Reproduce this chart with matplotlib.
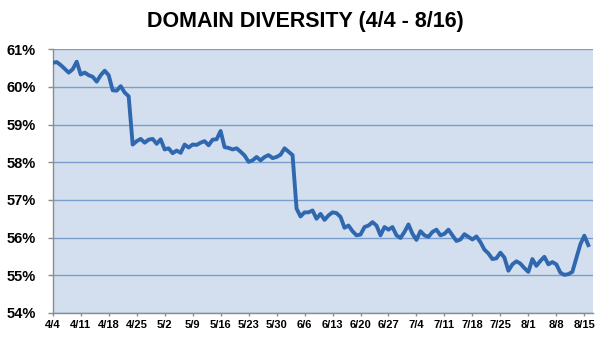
import matplotlib
matplotlib.use('Agg')
import matplotlib.pyplot as plt
from matplotlib.ticker import FuncFormatter

# Daily share (%) from 4/4 to 8/16
diversity = [
    60.64, 60.66, 60.58, 60.48, 60.38, 60.47, 60.67, 60.33, 60.38, 60.31,
    60.27, 60.14, 60.31, 60.43, 60.31, 59.91, 59.90, 60.02, 59.85, 59.75,
    58.47, 58.56, 58.62, 58.52, 58.60, 58.62, 58.49, 58.61, 58.34, 58.37,
    58.24, 58.31, 58.25, 58.47, 58.39, 58.47, 58.46, 58.52, 58.56, 58.45,
    58.60, 58.61, 58.83, 58.40, 58.38, 58.34, 58.37, 58.28, 58.18, 58.01,
    58.05, 58.14, 58.05, 58.14, 58.19, 58.11, 58.14, 58.20, 58.37, 58.28,
    58.19, 56.77, 56.56, 56.67, 56.67, 56.72, 56.50, 56.63, 56.47, 56.59,
    56.67, 56.65, 56.55, 56.26, 56.32, 56.17, 56.06, 56.08, 56.28, 56.32,
    56.41, 56.32, 56.06, 56.28, 56.21, 56.28, 56.06, 55.99, 56.15, 56.35,
    56.10, 55.94, 56.17, 56.06, 56.02, 56.15, 56.21, 56.06, 56.10, 56.21,
    56.06, 55.91, 55.95, 56.09, 56.02, 55.95, 56.03, 55.88, 55.68, 55.58,
    55.43, 55.45, 55.60, 55.47, 55.12, 55.29, 55.37, 55.31, 55.19, 55.09,
    55.43, 55.25, 55.38, 55.49, 55.29, 55.35, 55.29, 55.07, 55.01, 55.03,
    55.09, 55.45, 55.82, 56.05, 55.80,
]
week_labels = ['4/4', '4/11', '4/18', '4/25', '5/2', '5/9', '5/16', '5/23',
               '5/30', '6/6', '6/13', '6/20', '6/27', '7/4', '7/11', '7/18',
               '7/25', '8/1', '8/8', '8/15']
y_ticks = [54, 55, 56, 57, 58, 59, 60, 61]

font = 'Liberation Sans'
days = list(range(len(diversity)))

fig = plt.figure(figsize=(6.04, 3.42), dpi=100)
ax = fig.add_axes([0.0873, 0.085, 0.8947, 0.771])
ax.set_facecolor('#D3DFEE')

ax.plot(days, diversity, color='#3068B0', linewidth=2.8,
        solid_joinstyle='round', zorder=3)

ax.set_xlim(0, 135.2)
ax.set_ylim(54, 61)
ax.set_yticks(y_ticks)
ax.yaxis.set_major_formatter(FuncFormatter(lambda v, p: '{:.0f}%'.format(v)))
ax.set_xticks(range(0, len(diversity), 7), labels=week_labels)

ax.grid(axis='y', color='#7B9FCD', linewidth=1.0, zorder=1)
ax.set_axisbelow(True)

for s in ['top', 'right']:
    ax.spines[s].set_visible(False)
for s in ['left', 'bottom']:
    ax.spines[s].set_color('#8C8C8C')
    ax.spines[s].set_linewidth(1.0)

ax.tick_params(axis='y', length=3.5, width=1, color='#8C8C8C', pad=8.5)
ax.tick_params(axis='x', length=2.5, width=1, color='#8C8C8C', pad=2.5)
for lbl in ax.get_yticklabels():
    lbl.set_family(font)
    lbl.set_fontsize(10.5)
    lbl.set_fontweight('bold')
for lbl in ax.get_xticklabels():
    lbl.set_family(font)
    lbl.set_fontsize(8)
    lbl.set_fontweight('bold')

fig.text(0.505, 0.938, 'DOMAIN DIVERSITY (4/4 - 8/16)', ha='center',
         va='center', family=font, fontsize=15.5, fontweight='bold')

fig.savefig('out.png', dpi=100)
